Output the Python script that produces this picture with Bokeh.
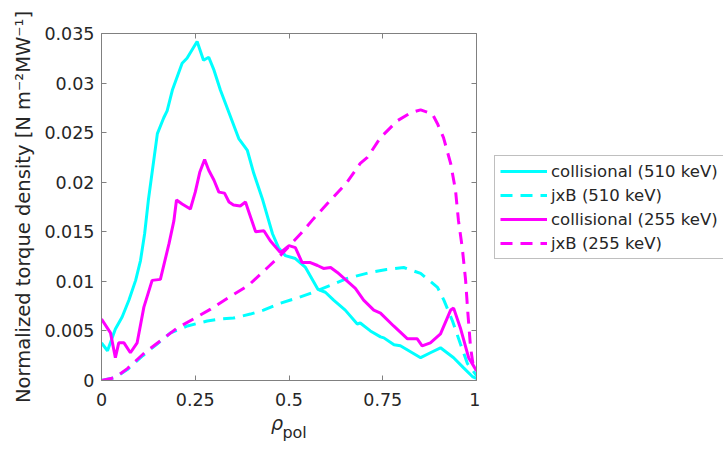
from bokeh.plotting import figure
from bokeh.models import (Range1d, LinearAxis, FixedTicker, Legend, LegendItem)
from bokeh.layouts import row
from bokeh.embed import file_html
from bokeh.resources import INLINE

# ---- data ----
x_col510 = [0.0, 0.016, 0.037, 0.055, 0.073, 0.091, 0.104, 0.115, 0.125, 0.149, 0.166, 0.175,
            0.189, 0.215, 0.228, 0.255, 0.272, 0.286, 0.300, 0.317, 0.340, 0.366, 0.389, 0.406,
            0.430, 0.456, 0.472, 0.490, 0.517, 0.544, 0.577, 0.597, 0.619, 0.650, 0.682, 0.690,
            0.717, 0.744, 0.753, 0.780, 0.797, 0.851, 0.877, 0.904, 0.939, 0.965, 0.989, 1.0]
y_col510 = [0.0038, 0.0030, 0.0052, 0.0064, 0.0081, 0.0101, 0.0121, 0.0148, 0.0182, 0.0249, 0.0265, 0.0272,
            0.0293, 0.0320, 0.0325, 0.0342, 0.0323, 0.0326, 0.0313, 0.0293, 0.0270, 0.0244, 0.0232, 0.0209,
            0.0182, 0.0148, 0.0134, 0.0126, 0.0123, 0.0114, 0.0092, 0.0089, 0.0081, 0.0071, 0.0057, 0.0058,
            0.0050, 0.0044, 0.0043, 0.0036, 0.0035, 0.0023, 0.0028, 0.0033, 0.0023, 0.0013, 0.0004, 0.0002]

x_jxb510 = [0.0, 0.037, 0.069, 0.110, 0.149, 0.184, 0.229, 0.282, 0.317, 0.352, 0.397, 0.432, 0.477,
            0.520, 0.565, 0.611, 0.655, 0.717, 0.760, 0.806, 0.851, 0.896, 0.913, 0.936, 0.957, 0.976, 1.0]
y_jxb510 = [0.0, 0.0003, 0.0011, 0.0025, 0.0037, 0.0048, 0.0055, 0.0060, 0.0062, 0.0063, 0.0067, 0.0071, 0.0078,
            0.0083, 0.0089, 0.0096, 0.0103, 0.0109, 0.0112, 0.0114, 0.0108, 0.0094, 0.0081, 0.0060, 0.0037, 0.0017, 0.0005]

x_col255 = [0.0, 0.024, 0.037, 0.046, 0.060, 0.077, 0.095, 0.113, 0.135, 0.157, 0.180, 0.193, 0.200,
            0.215, 0.237, 0.250, 0.262, 0.275, 0.286, 0.300, 0.313, 0.328, 0.340, 0.352, 0.370, 0.384,
            0.392, 0.411, 0.433, 0.450, 0.477, 0.500, 0.517, 0.535, 0.557, 0.576, 0.592, 0.611, 0.629,
            0.659, 0.677, 0.699, 0.726, 0.744, 0.779, 0.816, 0.842, 0.855, 0.877, 0.904, 0.931, 0.939,
            0.957, 0.979, 0.995, 1.0]
y_col255 = [0.0062, 0.0048, 0.0023, 0.0038, 0.0038, 0.0028, 0.0038, 0.0074, 0.0101, 0.0102, 0.0138, 0.0161, 0.0182,
            0.0178, 0.0173, 0.0190, 0.0210, 0.0223, 0.0212, 0.0202, 0.0190, 0.0189, 0.0180, 0.0177, 0.0176, 0.0180,
            0.0171, 0.0150, 0.0151, 0.0141, 0.0129, 0.0136, 0.0134, 0.0119, 0.0119, 0.0116, 0.0113, 0.0114, 0.0109,
            0.0099, 0.0093, 0.0081, 0.0071, 0.0068, 0.0055, 0.0042, 0.0042, 0.0035, 0.0038, 0.0047, 0.0071, 0.0073,
            0.0053, 0.0023, 0.0013, 0.0010]

x_jxb255 = [0.0, 0.037, 0.069, 0.112, 0.157, 0.202, 0.245, 0.291, 0.336, 0.392, 0.443, 0.477, 0.531,
            0.565, 0.611, 0.655, 0.690, 0.709, 0.744, 0.789, 0.824, 0.851, 0.882, 0.896, 0.912, 0.931,
            0.944, 0.952, 0.962, 0.971, 0.977, 0.984, 0.992, 1.0]
y_jxb255 = [0.0, 0.0003, 0.0012, 0.0027, 0.0040, 0.0053, 0.0062, 0.0072, 0.0083, 0.0096, 0.0114, 0.0126, 0.0148,
            0.0163, 0.0182, 0.0200, 0.0219, 0.0225, 0.0245, 0.0262, 0.0270, 0.0273, 0.0269, 0.0259, 0.0245, 0.0219,
            0.0192, 0.0161, 0.0134, 0.0101, 0.0068, 0.0034, 0.0013, 0.0010]

x_ticks = [0, 0.25, 0.5, 0.75, 1]
x_tick_labels = ["0", "0.25", "0.5", "0.75", "1"]
y_ticks = [0, 0.005, 0.01, 0.015, 0.02, 0.025, 0.03, 0.035]
y_tick_labels = ["0", "0.005", "0.01", "0.015", "0.02", "0.025", "0.03", "0.035"]
series_labels = ["collisional (510 keV)", "jxB (510 keV)", "collisional (255 keV)", "jxB (255 keV)"]
xlabel_main = "\u03c1"
xlabel_sub = "pol"
ylabel = "Normalized torque density [N m\u207b\u00b2MW\u207b\u00b9]"

FONT = "DejaVu Sans"
AX = "#808080"
TXT = "#262626"
CYAN = "#00FFFF"
MAGENTA = "#FF00FF"
DASH = "12 8"

series = [(x_col510, y_col510, CYAN, "solid"),
          (x_jxb510, y_jxb510, CYAN, DASH),
          (x_col255, y_col255, MAGENTA, "solid"),
          (x_jxb255, y_jxb255, MAGENTA, DASH)]

# ---------------- main plot ----------------
p = figure(width=480, height=453, output_backend="svg", toolbar_location=None,
           x_range=Range1d(0, 1), y_range=Range1d(0, 0.035),
           min_border_left=101, min_border_right=4, min_border_top=33, min_border_bottom=73)
p.outline_line_color = None
p.grid.visible = False
p.background_fill_color = "white"
p.border_fill_color = "white"

# extra top / right axes (box with inward ticks)
p.add_layout(LinearAxis(), "above")
p.add_layout(LinearAxis(), "right")

for ax in p.xaxis:
    ax.ticker = FixedTicker(ticks=x_ticks)
for ax in p.yaxis:
    ax.ticker = FixedTicker(ticks=y_ticks)

for ax in list(p.xaxis) + list(p.yaxis):
    ax.axis_line_color = AX
    ax.major_tick_line_color = AX
    ax.major_tick_in = 5
    ax.major_tick_out = 0
    ax.minor_tick_line_color = None
    ax.major_label_text_font = FONT
    ax.major_label_text_font_size = "17.5px"
    ax.major_label_text_color = TXT

p.below[0].major_label_overrides = {t: l for t, l in zip(x_ticks, x_tick_labels)}
p.left[0].major_label_overrides = {t: l for t, l in zip(y_ticks, y_tick_labels)}
p.above[0].major_label_overrides = {t: "" for t in x_ticks}
p.right[0].major_label_overrides = {t: "" for t in y_ticks}
p.above[0].major_label_text_font_size = "1px"
p.above[0].major_label_standoff = 0
p.right[0].major_label_text_font_size = "1px"
p.right[0].major_label_standoff = 0

p.below[0].major_label_standoff = 12
p.left[0].major_label_standoff = 7
p.left[0].axis_label = ylabel
p.left[0].axis_label_text_font = FONT
p.left[0].axis_label_text_font_size = "19.5px"
p.left[0].axis_label_text_font_style = "normal"
p.left[0].axis_label_text_color = TXT
p.left[0].axis_label_standoff = 6

# x-axis title "rho_pol": two label-only axes stacked under the main x axis
def label_axis(pos, text, size, style, standoff):
    a = LinearAxis(ticker=FixedTicker(ticks=[pos]), major_label_overrides={pos: text})
    a.axis_line_color = None
    a.major_tick_line_color = None
    a.minor_tick_line_color = None
    a.major_tick_out = 0
    a.major_tick_in = 0
    a.major_label_standoff = standoff
    a.major_label_text_font = FONT
    a.major_label_text_font_size = size
    a.major_label_text_font_style = style
    a.major_label_text_color = TXT
    return a

p.add_layout(label_axis(0.468, xlabel_main, "19px", "italic", 3), "below")
p.add_layout(label_axis(0.515, xlabel_sub, "16px", "normal", -14), "below")

# data lines
for xs, ys, c, d in series:
    p.line(xs, ys, line_color=c, line_width=3, line_dash=d)

# ---------------- legend panel (outside the axes, like the reference) ----------------
# same series drawn again in a side figure whose y range lies far above the data,
# so only their legend entries are visible
q = figure(width=243, height=453, output_backend="svg", toolbar_location=None,
           x_range=Range1d(0, 1), y_range=Range1d(10, 11),
           x_axis_type=None, y_axis_type=None, min_border=0)
q.outline_line_color = None
q.grid.visible = False
q.background_fill_color = "white"
q.border_fill_color = "white"

proxies = [q.line(xs, ys, line_color=c, line_width=3, line_dash=d) for xs, ys, c, d in series]

legend = Legend(items=[LegendItem(label=l, renderers=[r]) for l, r in zip(series_labels, proxies)],
                location=(14, 121), orientation="vertical",
                label_text_font=FONT, label_text_font_size="16.5px", label_text_color=TXT,
                glyph_width=47, glyph_height=20, label_height=20, label_standoff=4,
                spacing=4, padding=5, margin=0,
                border_line_color=AX, border_line_width=1, background_fill_color="white",
                background_fill_alpha=1.0)
q.add_layout(legend, "center")

layout = row(p, q, spacing=0)
open("out.html", "w").write(file_html(layout, INLINE))
